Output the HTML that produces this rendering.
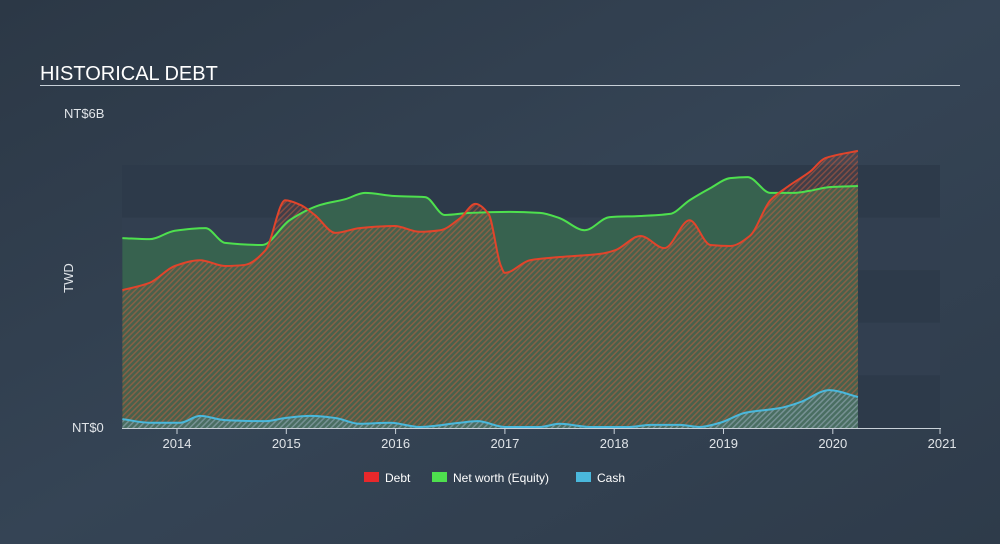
<!DOCTYPE html>
<html><head><meta charset="utf-8">
<style>
html,body{margin:0;padding:0;width:1000px;height:544px;overflow:hidden;background:#334150;font-family:"Liberation Sans",sans-serif;}
svg{display:block}
</style></head>
<body>
<svg id="chart" width="1000" height="544">
<defs>
<linearGradient id="bg" x1="0" y1="0" x2="1" y2="1">
<stop offset="0" stop-color="#2c3846"/><stop offset="0.5" stop-color="#354455"/><stop offset="1" stop-color="#2e3b4a"/>
</linearGradient>
<pattern id="hatchRed" width="4" height="4" patternUnits="userSpaceOnUse" patternTransform="rotate(45)">
<rect width="4" height="4" fill="rgba(200,90,60,0.12)"/>
<rect width="1.5" height="4" fill="rgba(225,95,60,0.42)"/>
</pattern>
<pattern id="hatchBlue" width="4" height="4" patternUnits="userSpaceOnUse" patternTransform="rotate(45)">
<rect width="4" height="4" fill="rgba(80,180,220,0.15)"/>
<rect width="1.5" height="4" fill="rgba(100,200,230,0.4)"/>
</pattern>
</defs>
<rect width="1000" height="544" fill="url(#bg)"/>
<text x="40" y="80" fill="#ffffff" font-size="20">HISTORICAL DEBT</text>
<rect x="40" y="85" width="920" height="1" fill="#c8d0d8"/>
<g id="bands"></g>
<text x="64" y="118" fill="#e0e4e8" font-size="13">NT$6B</text>
<text x="72" y="432" fill="#e0e4e8" font-size="13">NT$0</text>
<text x="73" y="278" fill="#e0e4e8" font-size="13" transform="rotate(-90 73 278)" text-anchor="middle">TWD</text>
<g id="series"></g>
<g id="xaxis"></g>
<g>
<g><rect x="364" y="472" width="15" height="10" fill="#e8282b"/><text x="385" y="482" fill="#fff" font-size="12">Debt</text></g>
<g><rect x="432" y="472" width="15" height="10" fill="#4ee04e"/><text x="453" y="482" fill="#fff" font-size="12">Net worth (Equity)</text></g>
<g><rect x="576" y="472" width="15" height="10" fill="#4ab8dc"/><text x="597" y="482" fill="#fff" font-size="12">Cash</text></g>
</g>
</svg>
<script>
const debtDates=[2013.50,2013.75,2013.98,2014.21,2014.44,2014.62,2014.81,2014.99,2015.13,2015.26,2015.45,2015.67,2015.99,2016.22,2016.41,2016.59,2016.73,2016.85,2016.96,2017.00,2017.23,2017.50,2017.87,2018.01,2018.24,2018.46,2018.69,2018.88,2019.06,2019.24,2019.43,2019.61,2019.79,2019.93,2020.23];
const debtValues=[2.62,2.76,3.08,3.19,3.08,3.10,3.38,4.33,4.24,4.05,3.71,3.80,3.84,3.73,3.76,3.99,4.26,4.07,3.10,2.95,3.19,3.25,3.31,3.38,3.65,3.42,3.95,3.48,3.46,3.65,4.33,4.62,4.87,5.13,5.27];
const equityDates=[2013.50,2013.75,2013.98,2014.26,2014.44,2014.78,2015.03,2015.31,2015.54,2015.72,2015.99,2016.27,2016.45,2016.68,2017.05,2017.32,2017.50,2017.73,2017.96,2018.24,2018.51,2018.69,2018.88,2019.06,2019.22,2019.43,2019.65,2019.79,2019.97,2020.23];
const equityValues=[3.61,3.59,3.75,3.80,3.52,3.48,3.95,4.24,4.35,4.47,4.41,4.39,4.05,4.09,4.11,4.09,3.99,3.76,4.01,4.03,4.07,4.33,4.56,4.75,4.77,4.47,4.47,4.51,4.58,4.60];
const cashDates=[2013.50,2013.75,2014.03,2014.21,2014.44,2014.81,2014.99,2015.22,2015.45,2015.67,2015.95,2016.22,2016.59,2016.75,2017.00,2017.32,2017.50,2017.78,2018.14,2018.33,2018.60,2018.78,2018.97,2019.20,2019.52,2019.70,2019.97,2020.23];
const cashValues=[0.17,0.10,0.10,0.23,0.15,0.13,0.19,0.23,0.19,0.08,0.10,0.02,0.10,0.13,0.02,0.02,0.08,0.02,0.02,0.06,0.06,0.02,0.10,0.29,0.38,0.49,0.72,0.59];
const xTicks=[2014,2015,2016,2017,2018,2019,2020,2021];

const X0=122,X1=940,Y0=428,Ytop=165;
const xScale=d=>177+(d-2014)*109.3;
const yScale=v=>Y0-v*(Y0-Ytop)/5;
const NS="http://www.w3.org/2000/svg";
function mk(tag,attrs,parent){const e=document.createElementNS(NS,tag);for(const k in attrs)e.setAttribute(k,attrs[k]);parent.appendChild(e);return e;}

const bands=document.getElementById('bands');
for(let i=0;i<5;i++){
  const r=mk('rect',{x:X0,y:yScale(5-i),width:X1-X0,height:yScale(4-i)-yScale(5-i),fill:i%2?'#323f50':'#2d3a4a'},bands);
  
  
}

function smoothPath(xs,ys){
  const n=xs.length,m=[],d=[];
  for(let i=0;i<n-1;i++)d.push((ys[i+1]-ys[i])/(xs[i+1]-xs[i]));
  m[0]=d[0];m[n-1]=d[n-2];
  for(let i=1;i<n-1;i++){m[i]=d[i-1]*d[i]<=0?0:2/(1/d[i-1]+1/d[i]);}
  let p=`M${xs[0]},${ys[0]}`;
  for(let i=0;i<n-1;i++){const h=(xs[i+1]-xs[i])/3;
    p+=` C${xs[i]+h},${ys[i]+m[i]*h} ${xs[i+1]-h},${ys[i+1]-m[i+1]*h} ${xs[i+1]},${ys[i+1]}`;}
  return p;
}
const g=document.getElementById('series');
function series(dates,vals,name,fill){
  const xs=dates.map(xScale),ys=vals.map(yScale);
  const line=smoothPath(xs,ys);
  const a=mk('path',{d:line+` L${xs[xs.length-1]},${Y0} L${xs[0]},${Y0} Z`,fill:fill},g);
  
  
  return line;
}
const eqLine=series(equityDates,equityValues,'equity','#37624f');
const debtLine=series(debtDates,debtValues,'debt','url(#hatchRed)');
const cashLine=series(cashDates,cashValues,'cash','url(#hatchBlue)');
const l1=mk('path',{d:eqLine,fill:'none',stroke:'#4ee04e','stroke-width':2},g);


const l2=mk('path',{d:debtLine,fill:'none',stroke:'#e2442b','stroke-width':2},g);


const l3=mk('path',{d:cashLine,fill:'none',stroke:'#4ab8dc','stroke-width':2},g);



const xa=document.getElementById('xaxis');
const base=mk('rect',{x:X0,y:Y0,width:X1-X0+1,height:1,fill:'#c8d0d8'},xa);


xTicks.forEach(t=>{
  const tk=mk('rect',{x:Math.min(xScale(t),X1)-0.5,y:Y0,width:1,height:6,fill:'#c8d0d8'},xa);
  
  
  const tx=mk('text',{x:xScale(t),y:Y0+20,fill:'#e0e4e8','font-size':13,'text-anchor':'middle'},xa);
  tx.textContent=t;
  
  
});
</script>
</body></html>
